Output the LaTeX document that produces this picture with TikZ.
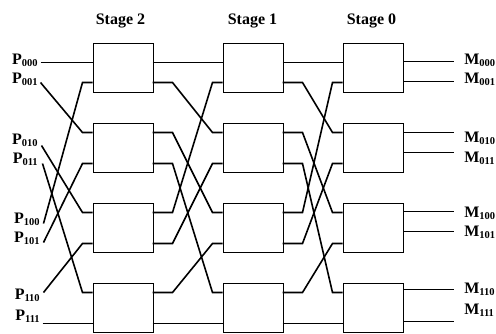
\documentclass[tikz,border=0pt]{standalone}
\usepackage{fontspec}
\setmainfont{Liberation Serif}
\usetikzlibrary{calc}
\newcommand\plab[2]{\fontsize{16}{16}\selectfont\bfseries #1\raisebox{-2pt}{\fontsize{10.5}{10.5}\selectfont\bfseries #2}}
\begin{document}
\begin{tikzpicture}[x=1pt,y=-1pt,line width=1.6pt,
  swbox/.style={draw,anchor=north west,minimum width=60pt,minimum height=49pt,inner sep=0pt},
  stagelbl/.style={font=\fontsize{16}{16}\selectfont\bfseries,anchor=base,inner sep=0pt},
  inlbl/.style={anchor=base east,inner sep=0pt},
  outlbl/.style={anchor=base west,inner sep=0pt},
  wire/.style={line join=miter}]
\useasboundingbox (0,0) rectangle (496,333);
\begin{scope}[shift={(0.5,0.5)}]
% stage labels
\node[stagelbl] (st2) at (120,24) {Stage 2};
\node[stagelbl] (st1) at (252,24) {Stage 1};
\node[stagelbl] (st0) at (371,24) {Stage 0};
% boxes
\foreach \s/\x in {2/92,1/222,0/342}{
  \foreach \r/\t in {0/42,1/122,2/202,3/282}{
    \node[swbox] (b\s\r) at (\x,\t) {};
  }
}
% ports
\foreach \r/\a/\b in {0/62/82,1/132/163,2/212/243,3/292/323}{
  \foreach \s/\x in {2/92,1/222,0/342}{
    \coordinate (i\s\r0) at (\x,\a);
    \coordinate (i\s\r1) at (\x,\b);
  }
  \foreach \s/\x in {2/152,1/282}{
    \coordinate (o\s\r0) at (\x,\a);
    \coordinate (o\s\r1) at (\x,\b);
  }
}
\foreach \r/\a/\b in {0/61/81,1/132/152,2/211/231,3/289/321}{
  \coordinate (o0\r0) at (403,\a);
  \coordinate (o0\r1) at (403,\b);
}
% shuffle connections between stages
\foreach \k in {0,...,7}{
  \pgfmathtruncatemacro\i{int(\k/2)}
  \pgfmathtruncatemacro\p{mod(\k,2)}
  \pgfmathtruncatemacro\j{mod(\k,4)}
  \pgfmathtruncatemacro\q{int(\k/4)}
  \draw[wire] (o2\i\p) -- ++(20,0) -- ($(i1\j\q)+(-10,0)$) -- (i1\j\q);
  \draw[wire] (o1\i\p) -- ++(20,0) -- ($(i0\j\q)+(-10,0)$) -- (i0\j\q);
}
% input labels and wires
\foreach \k/\lab/\bx/\by/\sx/\sy in {0/000/38/64/40/62,1/001/38/83/40/82,2/010/38/144/41/145,3/011/38/163/42/163,4/100/40/223/43/223,5/101/40/242/43/242,6/110/40/299/43/292,7/111/40/320/42/323}{
  \pgfmathtruncatemacro\j{mod(\k,4)}
  \pgfmathtruncatemacro\q{int(\k/4)}
  \node[inlbl] (P\k) at (\bx,\by) {\plab{P}{\lab}};
  \coordinate (ps\k) at (\sx,\sy);
  \draw[wire] (ps\k) -- ($(i2\j\q)+(-10,0)$) -- (i2\j\q);
}
% output wires and labels
\foreach \r/\la/\lb/\ya/\yb in {0/000/001/64/83,1/010/011/142/162,2/100/101/217/236,3/110/111/293/314}{
  \coordinate (me\r0) at (453,0 |- o0\r0);
  \coordinate (me\r1) at (453,0 |- o0\r1);
  \draw (o0\r0) -- (me\r0);
  \draw (o0\r1) -- (me\r1);
  \node[outlbl] (M\la) at (463,\ya) {\plab{M}{\la}};
  \node[outlbl] (M\lb) at (463,\yb) {\plab{M}{\lb}};
}
\end{scope}
\end{tikzpicture}
\end{document}
